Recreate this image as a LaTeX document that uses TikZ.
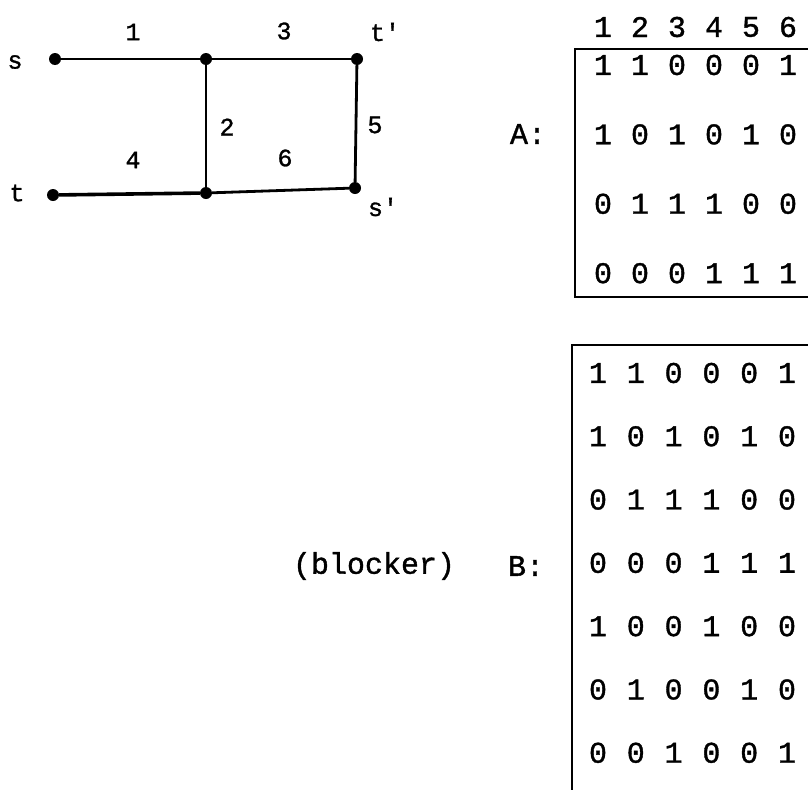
\documentclass[tikz,border=0pt]{standalone}
\usepackage{fontspec}
\newfontfamily\twfont[FakeBold=1.2]{Liberation Mono}
\begin{document}
\begin{tikzpicture}[x=1pt,y=-1pt,
  big/.style={inner sep=0pt,font=\twfont\fontsize{30}{36}\selectfont},
  small/.style={inner sep=0pt,font=\twfont\fontsize{25}{30}\selectfont},
  vtx/.style={circle,fill=black,inner sep=0pt,minimum size=12pt},
  edge/.style={line width=2.8pt},
  rule/.style={line width=1.8pt}]
\useasboundingbox (0,0) rectangle (808,790);
% graph
\node[vtx] (vs) at (55,59) {};
\node[vtx] (vm) at (206,59) {};
\node[vtx] (vtp) at (357,59) {};
\node[vtx] (vt) at (53,195) {};
\node[vtx] (vb) at (206,193) {};
\node[vtx] (vsp) at (355,188) {};
\draw[edge] (vs) -- (vm);
\draw[edge] (vm) -- (vtp);
\draw[edge] (vm) -- (vb);
\draw[edge] (vtp) -- (vsp);
\draw[edge,line width=3.6pt] (vt) -- (vb);
\draw[edge] (vb) -- (vsp);
\node[small] (ls) at (15,62) {s};
\node[small] (lt) at (17,193) {t};
\node[small] (ltp) at (385,32) {t'};
\node[small] (lsp) at (383,207) {s'};
\node[small] (e1) at (133,32) {1};
\node[small] (e3) at (284,31) {3};
\node[small] (e2) at (227,127) {2};
\node[small] (e5) at (375,125) {5};
\node[small] (e4) at (133,160) {4};
\node[small] (e6) at (285,158) {6};
% matrix A
\foreach \h [count=\c] in {1,2,3,4,5,6}
  \node[big] (h\c) at ({603+(\c-1)*37},27) {\h};
\foreach \row [count=\r] in {{1,1,0,0,0,1},{1,0,1,0,1,0},{0,1,1,1,0,0},{0,0,0,1,1,1}}
  \foreach \d [count=\c] in \row
    \node[big] (a\r\c) at ({603+(\c-1)*37},{65+(\r-1)*69.4}) {\d};
\node[big] (la) at (528,134) {A:};
\coordinate (atl) at (575,49);
\coordinate (atr) at (808,49);
\coordinate (abl) at (575,297);
\coordinate (abr) at (808,297);
\draw[rule] (atr) -- (atl) -- (abl) -- (abr);
% matrix B
\foreach \row [count=\r] in {{1,1,0,0,0,1},{1,0,1,0,1,0},{0,1,1,1,0,0},{0,0,0,1,1,1},{1,0,0,1,0,0},{0,1,0,0,1,0},{0,0,1,0,0,1}}
  \foreach \d [count=\c] in \row
    \node[big] (b\r\c) at ({598+(\c-1)*37.8},{373+(\r-1)*63.3}) {\d};
\node[big] (lb) at (526,566) {B:};
\node[big] (blk) at (374,566) {(blocker)};
\coordinate (btl) at (572,345);
\coordinate (btr) at (808,345);
\coordinate (bbl) at (572,790);
\draw[rule] (btr) -- (btl) -- (bbl);
\end{tikzpicture}
\end{document}
